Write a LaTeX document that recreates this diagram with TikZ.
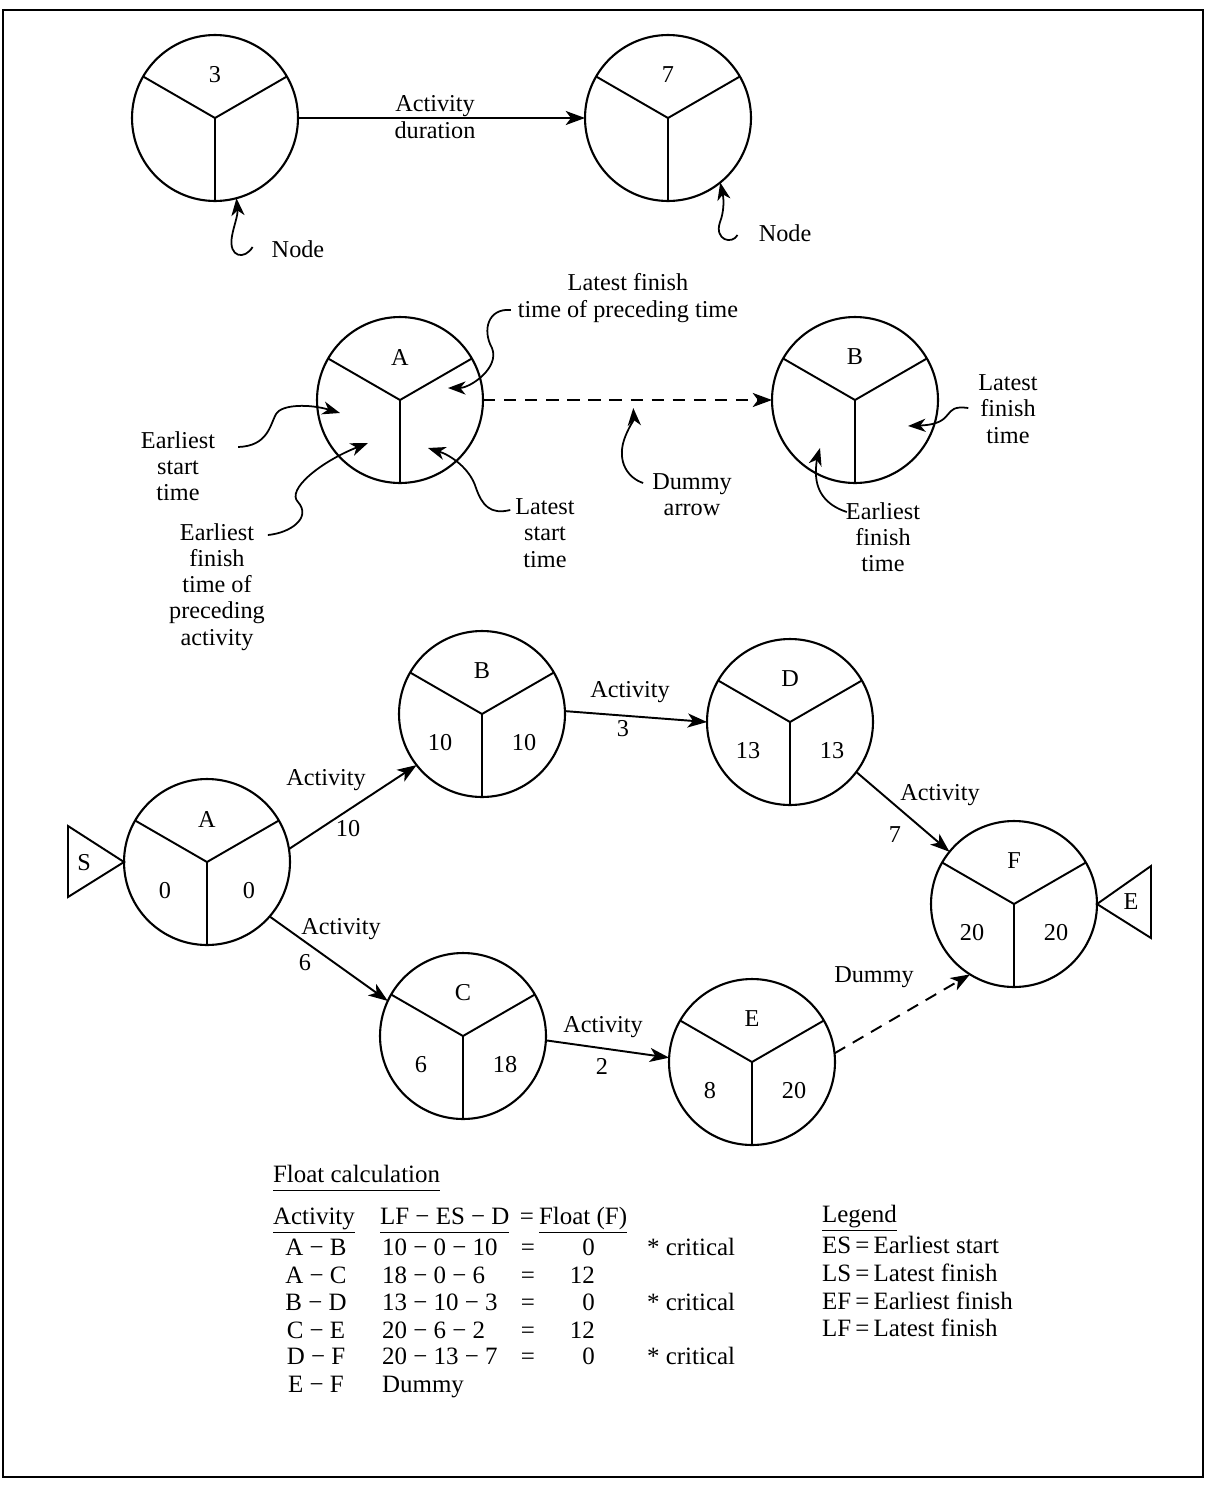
\documentclass[tikz,border=0pt]{standalone}
\usepackage{fontspec}
\setmainfont{Liberation Serif}
\usetikzlibrary{arrows.meta,calc,positioning}

\tikzset{
  event/.style={circle,draw,line width=1.2pt,minimum size=3.32cm,inner sep=0pt,outer sep=0pt},
  spoke/.style={line width=1.1pt},
  act/.style={line width=1.1pt,-{Stealth[length=11pt,width=8pt,inset=3pt]}},
  dummy/.style={act,dash pattern=on 7pt off 5pt},
  annot/.style={line width=1pt,-{Stealth[length=10pt,width=7.5pt,inset=3pt]}},
  txt/.style={align=center,inner sep=1pt},
  cell/.style={inner sep=1pt,text height=10pt,text depth=3pt,font=\fontsize{14.2}{15}\selectfont},
}

\begin{document}
\begin{tikzpicture}[x=0.02cm,y=-0.02cm,font=\fontsize{13.8}{14.9}\selectfont]
  \useasboundingbox (0,0) rectangle (1205,1488);
  \draw[line width=1.1pt] (3,10) rectangle (1203,1477);

  % events: name/x/y/top/left/right
  \foreach \nm/\xx/\yy/\tpl/\lfl/\rtl in {topL/215/118/3/{}/{}, topR/668/118/7/{}/{},
      keyA/400/400/A/{}/{}, keyB/855/400/B/{}/{},
      netA/207/862/A/0/0, netB/482/714/B/10/10, netC/463/1036/C/6/18,
      netD/790/722/D/13/13, netE/752/1062/E/8/20, netF/1014/904/F/20/20}{
    \node[event] (\nm) at (\xx,\yy) {};
    \draw[spoke] (\nm.center) -- (\nm.150) (\nm.center) -- (\nm.30) (\nm.center) -- (\nm.270);
    \node (\nm-t) at ($(\nm.center)+(0,-43)$) {\tpl};
    \node (\nm-l) at ($(\nm.center)+(-42,29)$) {\lfl};
    \node (\nm-r) at ($(\nm.center)+(42,29)$) {\rtl};
  }

  % top: activity and node
  \draw[act] (topL) -- (topR);
  \node[txt] (actTop) at (435,117) {Activity\\duration};
  \node (nodeL) at (298,249) {Node};
  \node (nodeR) at (785,233) {Node};
  \draw[annot] ($(nodeL.west)+(-13,-2)$) .. controls (245,260) and (228,258) .. (232,236)
    .. controls (234,225) and (238,216) .. (topL.-75);
  \draw[annot] ($(nodeR.west)+(-15,2)$) .. controls (732,245) and (714,240) .. (720,222)
    .. controls (724,212) and (724,200) .. (topR.-51);

  % key to the node
  \draw[dummy] (keyA) -- (keyB);
  \node[txt] (lfpTxt) at (628,298) {Latest finish\\time of preceding time};
  \node[txt] (esTxt) at (178,466) {Earliest\\start\\time};
  \node[txt] (efpTxt) at (217,587) {Earliest\\finish\\time of\\preceding\\activity};
  \node[txt] (lsTxt) at (545,533) {Latest\\start\\time};
  \node[txt] (dumTxt) at (692,495) {Dummy\\arrow};
  \node[txt] (lfTxt) at (1008,409) {Latest\\finish\\time};
  \node[txt] (efTxt) at (883,537) {Earliest\\finish\\time};

  \coordinate (lfpTip) at ($(keyA)+(48,-12)$);
  \coordinate (esTip) at ($(keyA)+(-60,13)$);
  \coordinate (efpTip) at ($(keyA)+(-32,43)$);
  \coordinate (lsTip) at ($(keyA)+(28,48)$);
  \coordinate (dumTip) at ($(keyA.east)!0.52!(keyB.west)+(0,8)$);
  \coordinate (lfTip) at ($(keyB)+(53,26)$);
  \coordinate (efTip) at ($(keyB)+(-35,48)$);

  \draw[annot] ($(lfpTxt.west)+(-5,12)$) .. controls (488,308) and (482,330) .. (492,348)
    .. controls (500,368) and (470,388) .. (lfpTip);
  \draw[annot] ($(esTxt.east)+(21,-19)$) .. controls (268,446) and (270,425) .. (276,414)
    .. controls (282,404) and (310,404) .. (esTip);
  \draw[annot] ($(efpTxt.east)+(1,-52)$) .. controls (290,533) and (312,518) .. (298,502)
    .. controls (286,490) and (320,462) .. (efpTip);
  \draw[annot] ($(lsTxt.west)+(-3,-23)$) .. controls (490,515) and (482,505) .. (476,488)
    .. controls (470,468) and (450,455) .. (lsTip);
  \draw[annot] ($(dumTxt.west)+(-7,-12)$) .. controls (628,478) and (617,462) .. (624,440)
    .. controls (628,428) and (634,420) .. (dumTip);
  \draw[annot] ($(lfTxt.west)+(-8,-1)$) .. controls (940,404) and (958,424) .. (lfTip);
  \draw[annot] ($(efTxt.west)+(3,-25)$) .. controls (825,505) and (815,490) .. (816,470)
    .. controls (816,462) and (818,455) .. (efTip);

  % network
  \draw[line width=1.1pt] (netA.west) -- ++(-56,-36) -- ++(0,71) -- cycle;
  \node (startS) at (84,863) {S};
  \draw[line width=1.1pt] (netF.east) -- ++(54,-38) -- ++(0,72) -- cycle;
  \node (endE) at (1131,902) {E};

  \draw[act] (netA.9) -- (netB.218);
  \draw[act] (netA.-41) -- (netC.155);
  \draw[act] (netB.2) -- (netD.180);
  \draw[act] (netD.-37) -- (netF.141);
  \draw[act] (netC.-3) -- (netE.177);
  \draw[dummy] (netE.6) -- (netF.238);

  \node (abAct) at (326,780) {Activity};
  \node (abDur) at (348,829) {10};
  \node (acAct) at (341,929) {Activity};
  \node (acDur) at (305,963) {6};
  \node (bdAct) at (630,692) {Activity};
  \node (bdDur) at (623,729) {3};
  \node (dfAct) at (940,795) {Activity};
  \node (dfDur) at (895,835) {7};
  \node (ceAct) at (603,1027) {Activity};
  \node (ceDur) at (602,1066) {2};
  \node (efDum) at (874,977) {Dummy};

  % float calculation
  \node[cell,anchor=west] (floatHd) at (271,1176) {\underline{Float calculation\vphantom{(y}}};
  \node[cell,anchor=west] (colAct) at (271,1218) {\underline{Activity\vphantom{(y}}};
  \node[cell,anchor=west] (colCalc) at (378,1218) {\underline{LF − ES − D\vphantom{(y}}};
  \node[cell] (colEq) at (527,1218) {=};
  \node[cell,anchor=west] (colFlt) at (537,1218) {\underline{Float (F)\vphantom{(y}}};
  \foreach \ac/\cl/\fl/\cr/\yy [count=\i] in {A − B/10 − 0 − 10/0/* critical/1249,
      A − C/18 − 0 − 6/12/{}/1277, B − D/13 − 10 − 3/0/* critical/1304,
      C − E/20 − 6 − 2/12/{}/1332, D − F/20 − 13 − 7/0/* critical/1358}{
    \node[cell] (row\i-act) at (316,\yy) {\ac};
    \node[cell,anchor=west] (row\i-calc) at (380,\yy) {\cl};
    \node[cell] (row\i-eq) at (528,\yy) {=};
    \node[cell,anchor=east] (row\i-flt) at (597,\yy) {\fl};
    \node[cell,anchor=west] (row\i-crit) at (645,\yy) {\cr};
  }
  \node[cell] (row6-act) at (316,1386) {E − F};
  \node[cell,anchor=west] (row6-calc) at (380,1386) {Dummy};

  % legend
  \node[cell,anchor=west] (legHd) at (820,1216) {\underline{Legend}};
  \foreach \kk/\vv/\yy in {ES/Earliest start/1247, LS/Latest finish/1275,
      EF/Earliest finish/1303, LF/Latest finish/1330}{
    \node[cell,anchor=west] (leg\kk) at (820,\yy) {\kk\,=\,\vv};
  }
\end{tikzpicture}
\end{document}
